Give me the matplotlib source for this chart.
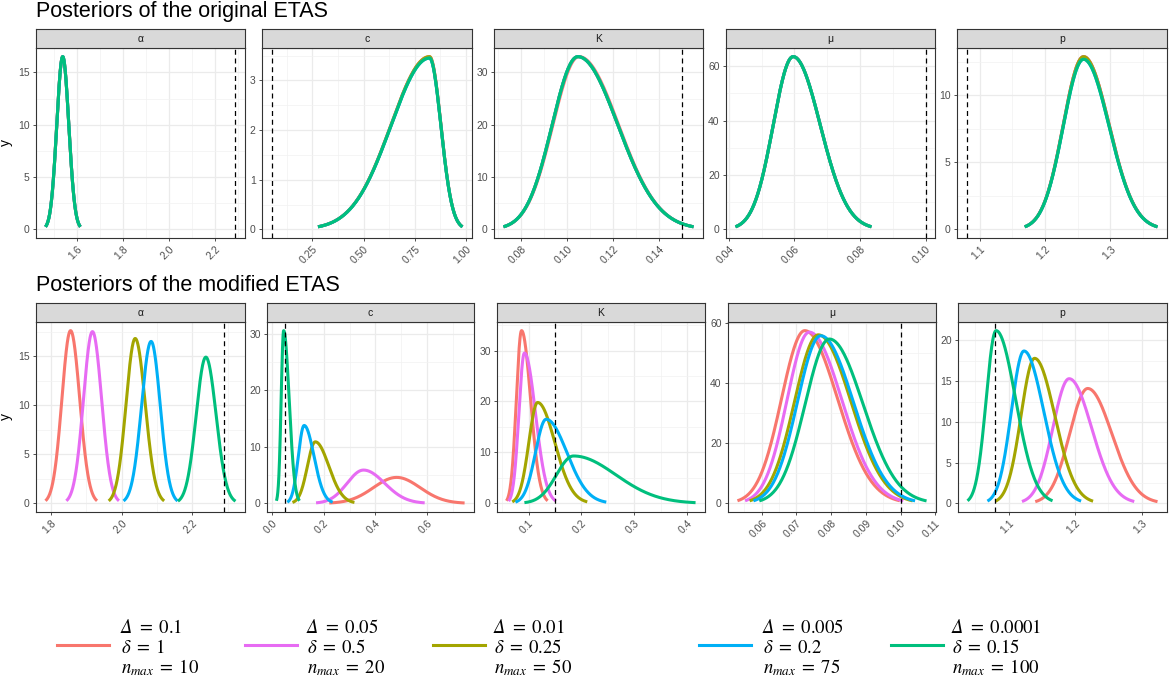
# -*- coding: utf-8 -*-

import numpy as np
import matplotlib
matplotlib.use('agg')
import matplotlib.pyplot as plt
from matplotlib.ticker import MultipleLocator, FormatStrFormatter
from matplotlib.lines import Line2D

########
# Data #
########

params = ['α', 'c', 'K', 'μ', 'p']
true_vals = [2.29, 0.05, 0.15, 0.10, 1.08]

delta_big = ['0.1', '0.05', '0.01', '0.005', '0.0001']
delta_small = ['1', '0.5', '0.25', '0.2', '0.15']
n_max = ['10', '20', '50', '75', '100']
colours = ['#F8766D', '#E76BF3', '#A3A500', '#00B0F6', '#00BF7D']

# posterior curves: rows = parameter, cols = setting
# (left end, mode, right end, peak height)
orig_lo = [[1.462] * 5, [0.277] * 5, [0.0723] * 5, [0.042] * 5, [1.169] * 5]
orig_mode = [[1.537] * 5, [0.822] * 5,
             [0.1052, 0.1047, 0.1047, 0.1047, 0.1047], [0.0596] * 5, [1.259] * 5]
orig_hi = [[1.614] * 5, [0.983] * 5, [0.1551] * 5, [0.0835] * 5, [1.372] * 5]
orig_peak = [[16.5] * 5, [3.48, 3.47, 3.48, 3.45, 3.45], [33.0] * 5,
             [63.5] * 5, [12.9, 12.9, 12.9, 12.7, 12.7]]

mod_lo = [[1.784, 1.843, 1.963, 2.005, 2.159],
          [0.222, 0.171, 0.080, 0.060, 0.018],
          [0.058, 0.062, 0.069, 0.075, 0.092],
          [0.0530, 0.0552, 0.0565, 0.0576, 0.0593],
          [1.140, 1.120, 1.080, 1.068, 1.038]]
mod_mode = [[1.855, 1.917, 2.038, 2.083, 2.238],
            [0.482, 0.354, 0.168, 0.125, 0.046],
            [0.0866, 0.092, 0.117, 0.133, 0.185],
            [0.0724, 0.0737, 0.0763, 0.0770, 0.0795],
            [1.219, 1.191, 1.139, 1.123, 1.081]]
mod_hi = [[1.930, 1.992, 2.120, 2.158, 2.322],
          [0.744, 0.590, 0.319, 0.235, 0.107],
          [0.136, 0.152, 0.211, 0.247, 0.416],
          [0.0998, 0.1008, 0.1035, 0.1042, 0.1075],
          [1.324, 1.289, 1.227, 1.209, 1.166]]
mod_peak = [[17.6, 17.5, 16.8, 16.5, 14.9],
            [4.6, 5.9, 10.9, 13.8, 30.6],
            [33.9, 29.5, 19.8, 16.5, 9.3],
            [57.5, 57.0, 56.1, 55.8, 54.7],
            [14.1, 15.3, 17.8, 18.7, 21.2]]

##########
# Layout #
##########

W, H = 1169, 684
plt.rcParams['font.family'] = ['Liberation Sans', 'DejaVu Sans']
plt.rcParams['mathtext.fontset'] = 'stix'

rows = [
    dict(title='Posteriors of the original ETAS', title_y=12,
         strip=(29, 48), bottom=238,
         xs=[(36, 245), (262, 472), (494, 703), (726, 935), (957, 1167)],
         lo=orig_lo, mode=orig_mode, hi=orig_hi, peak=orig_peak,
         xstep=[0.2, 0.25, 0.02, 0.02, 0.1], xfmt=['%.1f', '%.2f', '%.2f', '%.2f', '%.1f'],
         ystep=[5, 1, 10, 20, 5]),
    dict(title='Posteriors of the modified ETAS', title_y=285,
         strip=(303, 322), bottom=512,
         xs=[(36, 245), (267, 474), (497, 705), (728, 936), (958, 1167)],
         lo=mod_lo, mode=mod_mode, hi=mod_hi, peak=mod_peak,
         xstep=[0.2, 0.2, 0.1, 0.01, 0.1], xfmt=['%.1f', '%.1f', '%.1f', '%.2f', '%.1f'],
         ystep=[5, 10, 10, 20, 5]),
]


def px_axes(fig, l, t, r, b):
    return fig.add_axes([l / W, 1 - b / H, (r - l) / W, (b - t) / H])


def curve(lo, mode, hi, peak):
    # split-normal shape through the read end points, mode and peak
    x = np.linspace(lo, hi, 300)
    s = np.where(x < mode, (mode - lo) / 2.9, (hi - mode) / 2.9)
    return x, peak * np.exp(-0.5 * ((x - mode) / s) ** 2)


fig = plt.figure(figsize=(W / 100, H / 100), dpi=100)

for row in rows:
    fig.text(36 / W, 1 - row['title_y'] / H, row['title'], fontsize=15.5,
             va='center', ha='left', color='black')
    st, sb = row['strip']
    for i, name in enumerate(params):
        l, r = row['xs'][i]
        ax = px_axes(fig, l, sb, r, row['bottom'])
        sax = px_axes(fig, l, st, r, sb)
        sax.set_facecolor('#D9D9D9')
        sax.set_xticks([])
        sax.set_yticks([])
        for sp in sax.spines.values():
            sp.set_color('#333333')
            sp.set_linewidth(0.8)
        sax.text(0.5, 0.5, name, transform=sax.transAxes, ha='center', va='center',
                 fontsize=7.5, color='#1A1A1A')

        xmin, xmax, ymax = true_vals[i], true_vals[i], 0
        for j in range(5):
            x, y = curve(row['lo'][i][j], row['mode'][i][j], row['hi'][i][j], row['peak'][i][j])
            ax.plot(x, y, color=colours[j], lw=2.2, solid_capstyle='butt', zorder=3)
            xmin, xmax, ymax = min(xmin, x.min()), max(xmax, x.max()), max(ymax, y.max())
        ax.axvline(true_vals[i], color='black', ls=(0, (4, 3)), lw=0.9, zorder=4)
        dx = (xmax - xmin) * 0.05
        ax.set_xlim(xmin - dx, xmax + dx)
        ax.set_ylim(-0.05 * ymax, 1.05 * ymax)

        ax.xaxis.set_major_locator(MultipleLocator(row['xstep'][i]))
        ax.xaxis.set_minor_locator(MultipleLocator(row['xstep'][i] / 2))
        ax.xaxis.set_major_formatter(FormatStrFormatter(row['xfmt'][i]))
        ax.yaxis.set_major_locator(MultipleLocator(row['ystep'][i]))
        ax.yaxis.set_minor_locator(MultipleLocator(row['ystep'][i] / 2))
        ax.yaxis.set_major_formatter(FormatStrFormatter('%g'))
        ax.grid(which='major', color='#EBEBEB', lw=0.9, zorder=0)
        ax.grid(which='minor', color='#F2F2F2', lw=0.5, zorder=0)
        ax.set_axisbelow(True)
        ax.tick_params(which='major', length=2.5, width=0.6, color='#333333',
                       labelsize=7.5, labelcolor='#4D4D4D', pad=2)
        ax.tick_params(which='minor', length=0)
        for lab in ax.get_xticklabels():
            lab.set_rotation(45)
            lab.set_ha('right')
            lab.set_rotation_mode('anchor')
        for sp in ax.spines.values():
            sp.set_color('#333333')
            sp.set_linewidth(0.8)
        if i == 0:
            ax.set_ylabel('y', fontsize=10, labelpad=4)

##########
# Legend #
##########

key_x = [57, 245, 433, 699, 891]
txt_x = [121, 307, 494, 763, 952]
fs = 13.5
for j in range(5):
    fig.add_artist(Line2D([key_x[j] / W, (key_x[j] + 52) / W], [1 - 645 / H] * 2,
                          color=colours[j], lw=2.2, transform=fig.transFigure))
    fig.text(txt_x[j] / W, 1 - 628 / H, 'Δ', fontsize=fs, va='center',
             family='STIXGeneral', style='italic')
    fig.text((txt_x[j] + 12) / W, 1 - 628 / H, r'$\;=\;$' + delta_big[j],
             fontsize=fs, va='center', family='STIXGeneral')
    fig.text(txt_x[j] / W, 1 - 648 / H, r'$\delta\;=\;$' + delta_small[j],
             fontsize=fs, va='center', family='STIXGeneral')
    fig.text(txt_x[j] / W, 1 - 668 / H, r'$n_{max}\;=\;$' + n_max[j],
             fontsize=fs, va='center', family='STIXGeneral')

plt.savefig('out.png', dpi=100)
